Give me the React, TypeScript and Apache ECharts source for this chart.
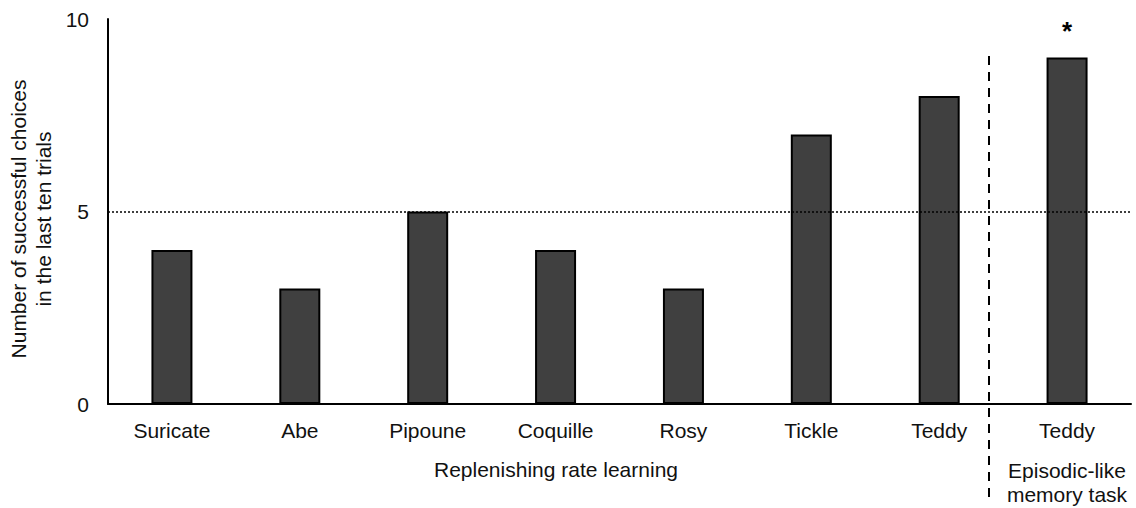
import React, { useEffect, useRef } from "react";
import * as echarts from "echarts";

const categories = ["Suricate", "Abe", "Pipoune", "Coquille", "Rosy", "Tickle", "Teddy", "Teddy"];
const values = [4, 3, 5, 4, 3, 7, 8, 9];
const chanceLevel = 5;
const yAxisTitle = "Number of successful choices\nin the last ten trials";
const groupLabels = ["Replenishing rate learning", "Episodic-like\nmemory task"];

const FONT = "Liberation Sans, Arial, sans-serif";
const FS = 21;

export default function App() {
  const ref = useRef<HTMLDivElement>(null);
  useEffect(() => {
    if (!ref.current) return;
    const chart = echarts.init(ref.current, null, { renderer: "svg" });
    const data = values.map((v, i) =>
      i === values.length - 1
        ? {
            value: v,
            label: {
              show: true,
              position: "top",
              distance: 14,
              formatter: "*",
              fontSize: 26,
              fontWeight: "bold",
              color: "#000",
              fontFamily: FONT,
            },
          }
        : v
    );
    chart.setOption({
      animation: false,
      textStyle: { fontFamily: FONT },
      grid: { left: 108, right: 5, top: 19, bottom: 104, containLabel: false, outerBoundsMode: "none" },
      xAxis: {
        type: "category",
        data: categories,
        axisTick: { show: false },
        axisLine: { lineStyle: { color: "#000", width: 2 } },
        axisLabel: { color: "#111", fontSize: FS, margin: 16, fontFamily: FONT },
      },
      yAxis: {
        type: "value",
        min: 0,
        max: 10,
        interval: 5,
        splitLine: { show: false },
        axisTick: { show: false },
        axisLine: { show: true, lineStyle: { color: "#000", width: 2 } },
        axisLabel: { color: "#111", fontSize: FS, margin: 19, fontFamily: FONT },
      },
      series: [
        {
          type: "bar",
          data,
          barWidth: 41,
          itemStyle: { color: "#404040", borderColor: "#000", borderWidth: 2 },
          markLine: {
            silent: true,
            symbol: "none",
            label: { show: false },
            lineStyle: { type: [2, 2], color: "#000", width: 1.5 },
            data: [{ yAxis: chanceLevel }],
          },
        },
      ],
      graphic: [
        {
          type: "text",
          x: 31,
          y: 219,
          rotation: Math.PI / 2,
          style: {
            text: yAxisTitle,
            fontSize: FS,
            lineHeight: 25,
            fontFamily: FONT,
            fill: "#111",
            align: "center",
            verticalAlign: "middle",
          },
        },
        {
          type: "line",
          shape: { x1: 989, y1: 56, x2: 989, y2: 502 },
          style: { stroke: "#000", lineWidth: 2, lineDash: [9, 7] },
        },
        {
          type: "text",
          x: 556,
          y: 469,
          style: {
            text: groupLabels[0],
            fontSize: FS,
            fontFamily: FONT,
            fill: "#111",
            align: "center",
            verticalAlign: "middle",
          },
        },
        {
          type: "text",
          x: 1067,
          y: 482,
          style: {
            text: groupLabels[1],
            fontSize: FS,
            lineHeight: 24,
            fontFamily: FONT,
            fill: "#111",
            align: "center",
            verticalAlign: "middle",
          },
        },
      ],
    });
    return () => chart.dispose();
  }, []);
  return <div ref={ref} style={{ width: 1136, height: 508, position: "absolute", left: 0, top: 0 }} />;
}
